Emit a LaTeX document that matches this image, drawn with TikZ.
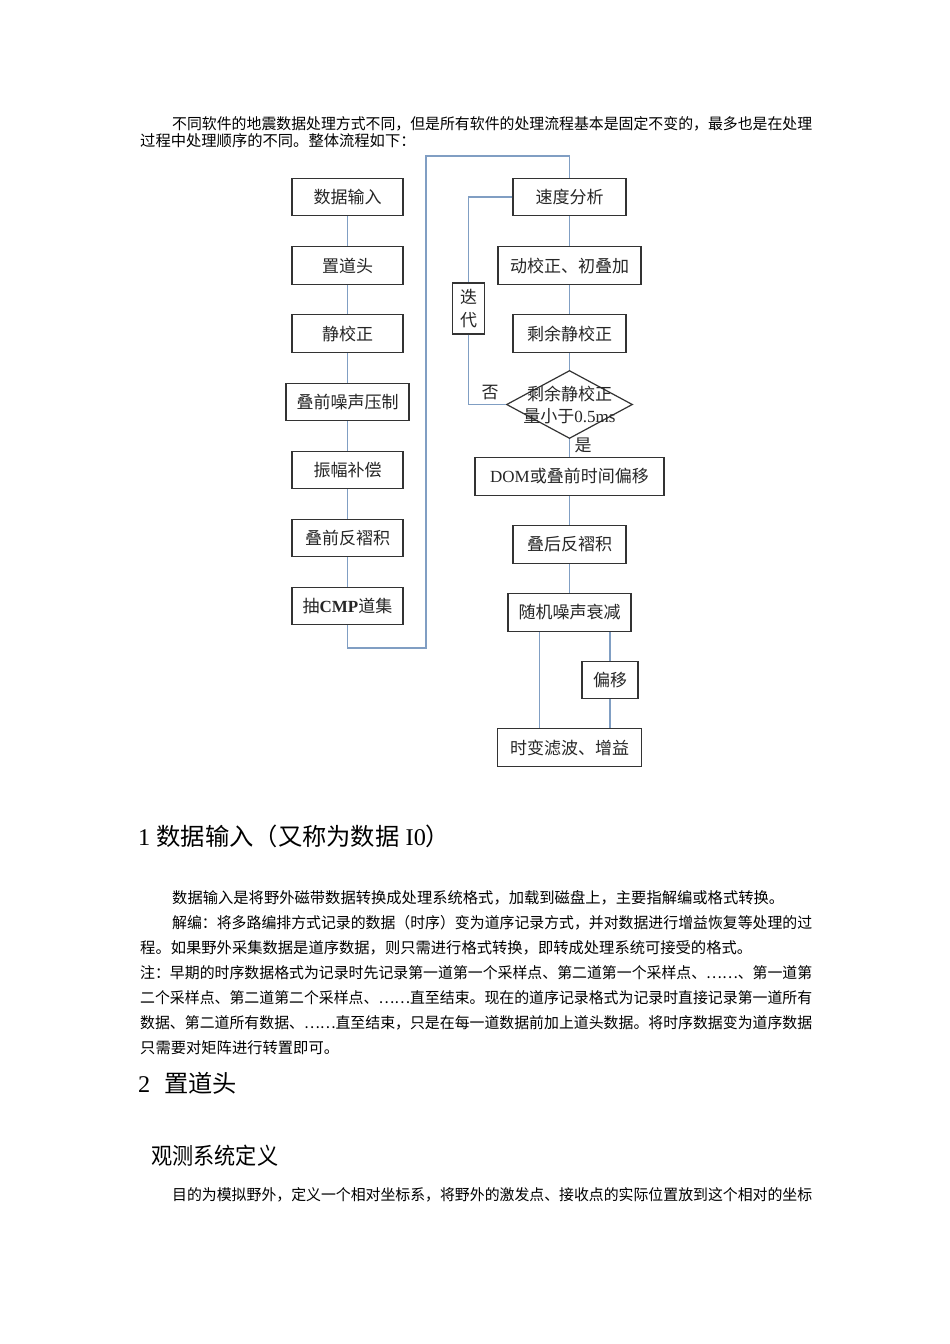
\documentclass[tikz,border=0pt]{standalone}
\usepackage{fontspec}
\usepackage{graphicx}
\setmainfont{Liberation Serif}
\newfontfamily\cjk{Noto Sans CJK SC}
\usetikzlibrary{shapes.geometric}
\definecolor{linec}{RGB}{128,158,195}
\begin{document}
\begin{tikzpicture}[x=1pt,y=-1pt,
  box/.style={draw=black!80,line width=1.2pt,rectangle,minimum height=37.5pt,inner sep=0pt,
    font=\fontsize{17}{20}\selectfont\cjk,text=black!85},
  link/.style={draw=linec,line width=1.3pt},
  body/.style={anchor=west,inner sep=0pt,font=\fontsize{15.3}{17}\selectfont\cjk},
  head/.style={anchor=west,inner sep=0pt,font=\fontsize{24}{26}\selectfont\cjk},
  lab/.style={inner sep=0pt,font=\fontsize{17}{20}\selectfont\cjk,text=black!85}]
\useasboundingbox (0,0) rectangle (950,1344);
\fill[white] (0,0) rectangle (950,1344);

% intro text
\node[body] (p1) at (172,124) {\resizebox{640pt}{\height}{不同软件的地震数据处理方式不同，但是所有软件的处理流程基本是固定不变的，最多也是在处理}};
\node[body] (p2) at (140,141) {过程中处理顺序的不同。整体流程如下：};

% left column
\node[box,minimum width=111pt] (n1) at (347.5,197) {数据输入};
\node[box,minimum width=111pt] (n2) at (347.5,265.5) {置道头};
\node[box,minimum width=111pt] (n3) at (347.5,333.5) {静校正};
\node[box,minimum width=123pt] (n4) at (347.5,402) {叠前噪声压制};
\node[box,minimum width=111pt] (n5) at (347.5,470) {振幅补偿};
\node[box,minimum width=111pt] (n6) at (347.5,538) {叠前反褶积};
\node[box,minimum width=111pt] (n7) at (347.5,606) {抽\textbf{\rmfamily CMP}道集};

% right column
\node[box,minimum width=113pt] (r1) at (569.5,197) {速度分析};
\node[box,minimum width=143pt] (r2) at (569.5,265.5) {动校正、初叠加};
\node[box,minimum width=113pt] (r3) at (569.5,333.5) {剩余静校正};
\node[diamond,draw=black!80,line width=1.2pt,minimum width=126pt,minimum height=68pt,inner sep=0pt] (d) at (569.5,404.5) {};
\node[lab,align=center,font=\fontsize{17}{22}\selectfont\cjk] (dt) at (569.5,405) {剩余静校正\\量小于{\rmfamily 0.5ms}};
\node[box,minimum width=189pt] (r4) at (569.5,476.5) {{\rmfamily DOM}或叠前时间偏移};
\node[box,minimum width=113pt] (r5) at (569.5,544.5) {叠后反褶积};
\node[box,minimum width=123pt] (r6) at (569.5,612.5) {随机噪声衰减};
\node[box,minimum width=56pt] (r7) at (610,680) {偏移};
\node[box,minimum width=144pt] (r8) at (569.5,747.5) {时变滤波、增益};
\node[box,minimum width=31.5pt,minimum height=51pt,align=center,font=\fontsize{17}{23}\selectfont\cjk] (it) at (468.5,308.5) {迭\\代};

\node[lab] (no) at (490,393) {否};
\node[lab] (yes) at (583,445) {是};

% connectors
\draw[link] (n1.south) -- (n2.north);
\draw[link] (n2.south) -- (n3.north);
\draw[link] (n3.south) -- (n4.north);
\draw[link] (n4.south) -- (n5.north);
\draw[link] (n5.south) -- (n6.north);
\draw[link] (n6.south) -- (n7.north);
\coordinate (b1) at (347.5,648);
\coordinate (b2) at (426,648);
\coordinate (b3) at (426,156);
\coordinate (b4) at (569.5,156);
\draw[link] (n7.south) -- (b1) -- (b2) -- (b3) -- (b4) -- (r1.north);
\draw[link] (r1.south) -- (r2.north);
\draw[link] (r2.south) -- (r3.north);
\draw[link] (r3.south) -- (d.north);
\draw[link] (d.south) -- (r4.north);
\draw[link] (r4.south) -- (r5.north);
\draw[link] (r5.south) -- (r6.north);
\draw[link] (r1.west) -- (r1.west -| it) -- (it.north);
\draw[link] (it.south) |- (d.west);
\coordinate (xa) at (539.5,0);
\draw[link] (r6.south -| xa) -- (r8.north -| xa);
\draw[link] (r6.south -| r7) -- (r7.north);
\draw[link] (r7.south) -- (r8.north -| r7);

% section 1
\node[head] (h1) at (138,836) {\resizebox{312pt}{\height}{{\rmfamily 1}\hspace{6pt}数据输入（又称为数据{\rmfamily\ I0}）}};
\node[body] (s1) at (172,898) {数据输入是将野外磁带数据转换成处理系统格式，加载到磁盘上，主要指解编或格式转换。};
\node[body] (s2) at (172,923) {\resizebox{640pt}{\height}{解编：将多路编排方式记录的数据（时序）变为道序记录方式，并对数据进行增益恢复等处理的过}};
\node[body] (s3) at (140,948) {程。如果野外采集数据是道序数据，则只需进行格式转换，即转成处理系统可接受的格式。};
\node[body] (s4) at (140,973) {\resizebox{672pt}{\height}{注：早期的时序数据格式为记录时先记录第一道第一个采样点、第二道第一个采样点、……、第一道第}};
\node[body] (s5) at (140,998) {\resizebox{672pt}{\height}{二个采样点、第二道第二个采样点、……直至结束。现在的道序记录格式为记录时直接记录第一道所有}};
\node[body] (s6) at (140,1023) {\resizebox{672pt}{\height}{数据、第二道所有数据、……直至结束，只是在每一道数据前加上道头数据。将时序数据变为道序数据}};
\node[body] (s7) at (140,1048) {只需要对矩阵进行转置即可。};

% section 2
\node[head] (h2) at (138,1083) {\resizebox{99pt}{\height}{{\rmfamily 2}\hspace{14pt}置道头}};
\node[head,font=\fontsize{23}{25}\selectfont\cjk] (h3) at (151,1156) {\resizebox{127pt}{\height}{观测系统定义}};
\node[body] (t1) at (172,1195) {\resizebox{640pt}{\height}{目的为模拟野外，定义一个相对坐标系，将野外的激发点、接收点的实际位置放到这个相对的坐标}};
\end{tikzpicture}
\end{document}
